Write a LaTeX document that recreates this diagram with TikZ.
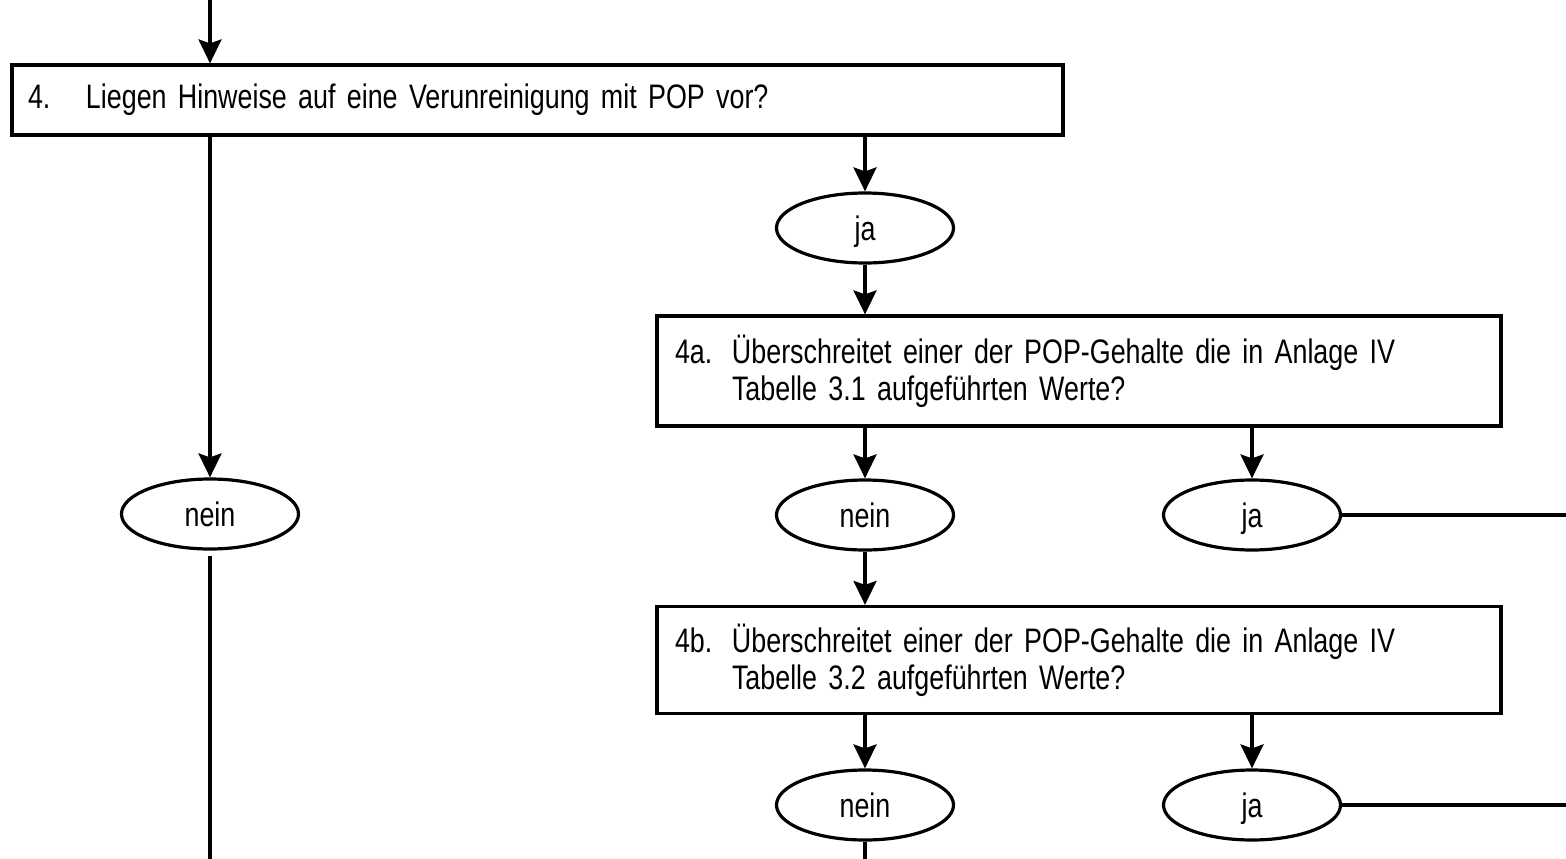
\documentclass[tikz,border=0pt]{standalone}
\usepackage{fontspec}
\setmainfont{Liberation Sans}[FakeStretch=0.79,WordSpace=0.72]
\usetikzlibrary{arrows.meta,shapes.geometric}

\tikzset{every path/.style={line width=3.2pt},
  frage/.style={draw,rectangle,inner ysep=0pt,align=left,
    font=\fontsize{34}{37}\selectfont},
  antwort/.style={draw,ellipse,minimum width=177pt,minimum height=70pt,
    inner sep=0pt,text height=24pt,text depth=0pt,font=\fontsize{34}{37}\selectfont},
  pfeil/.style={-{Stealth[length=24pt,width=23pt,inset=4pt]}}}

\begin{document}
\begin{tikzpicture}[x=1pt,y=-1pt]
\useasboundingbox (0,0) rectangle (1566,859);

\node[frage,minimum width=1051pt,minimum height=70pt,inner xsep=16pt,text width=1019pt] (f4) at (537.5,100)
  {\makebox[58pt][l]{4.}Liegen Hinweise auf eine Verunreinigung mit POP vor?};
\node[frage,minimum width=844pt,minimum height=110pt,inner xsep=18pt,text width=808pt] (f4a) at (1079,371)
  {\makebox[57pt][l]{4a.}Überschreitet einer der POP-Gehalte die in Anlage IV\\
   \hspace*{57pt}Tabelle 3.1 aufgeführten Werte?};
\node[frage,minimum width=844pt,minimum height=107pt,inner xsep=18pt,text width=808pt] (f4b) at (1079,660)
  {\makebox[57pt][l]{4b.}Überschreitet einer der POP-Gehalte die in Anlage IV\\
   \hspace*{57pt}Tabelle 3.2 aufgeführten Werte?};

\node[antwort] (n0) at (210,514) {nein};
\node[antwort] (j0) at (865,228) {ja};
\node[antwort] (n1) at (865,515) {nein};
\node[antwort] (j1) at (1252,515) {ja};
\node[antwort] (n2) at (865,805) {nein};
\node[antwort] (j2) at (1252,805) {ja};

\coordinate (start) at (210,0);
\coordinate (ende0) at (210,859);
\coordinate (ende2) at (865,859);
\coordinate (rechts1) at (1566,515);
\coordinate (rechts2) at (1566,805);

\draw[pfeil] (start) -- (f4.north -| start);
\draw[pfeil] (f4.south -| n0) -- (n0.north);
\draw[shorten <=5pt] (n0.south) -- (ende0);
\draw[pfeil] (f4.south -| j0) -- (j0.north);
\draw[pfeil] (j0.south) -- (f4a.north -| j0);
\draw[pfeil] (f4a.south -| n1) -- (n1.north);
\draw[pfeil] (f4a.south -| j1) -- (j1.north);
\draw (j1.east) -- (rechts1);
\draw[pfeil] (n1.south) -- (f4b.north -| n1);
\draw[pfeil] (f4b.south -| n2) -- (n2.north);
\draw[pfeil] (f4b.south -| j2) -- (j2.north);
\draw (j2.east) -- (rechts2);
\draw (n2.south) -- (ende2);
\end{tikzpicture}
\end{document}
